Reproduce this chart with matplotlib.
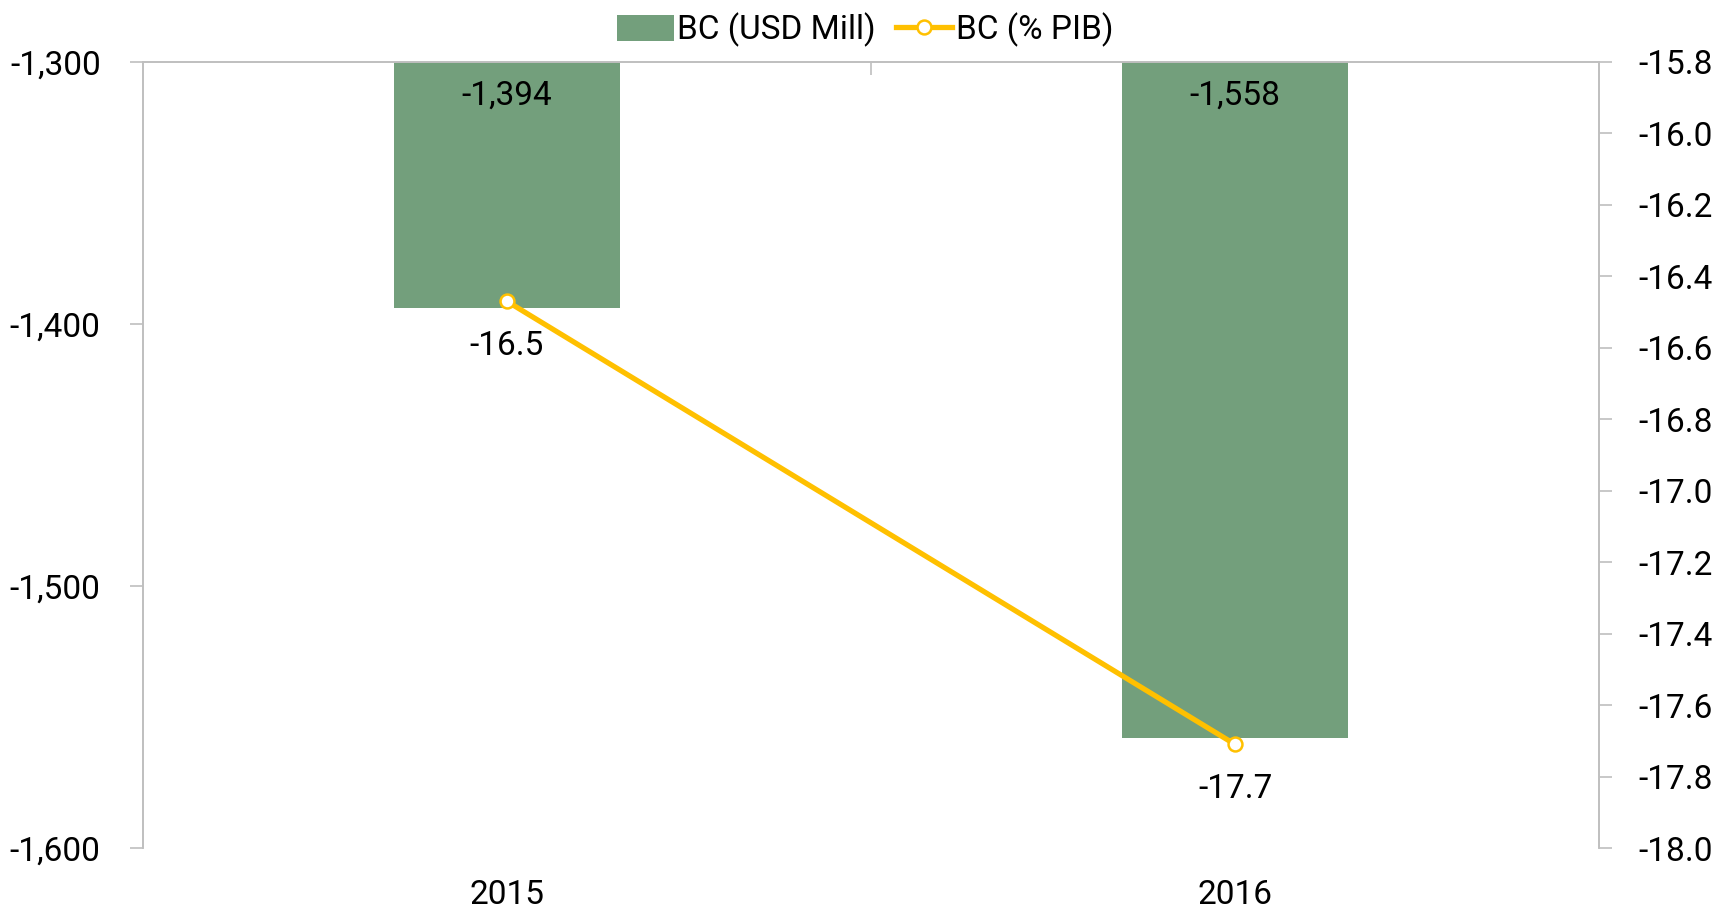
import matplotlib.pyplot as plt

plt.rcParams["font.family"] = ["Roboto", "DejaVu Sans"]

years = ["2015", "2016"]
bc_usd = [-1394, -1558]
bc_pib = [-16.47, -17.71]
bc_pib_labels = ["-16.5", "-17.7"]

GREEN = "#739F7C"
YELLOW = "#FFC000"
GRAY = "#BFBFBF"
FS = 24

fig = plt.figure(figsize=(17.13, 9.10), dpi=100)
ax = fig.add_axes([0.0835, 0.0681, 0.85, 0.8638])
ax2 = ax.twinx()

x = list(range(len(years)))
base = -1300
bars = ax.bar(x, [v - base for v in bc_usd], bottom=base, width=0.31,
              color=GREEN, label="BC (USD Mill)", zorder=2)
for xi, v in zip(x, bc_usd):
    ax.annotate(f"{v:,}", (xi, base), xytext=(0, -24), textcoords="offset points",
                ha="center", va="center", fontsize=FS)

ax.set_xlim(-0.5, 1.5)
ax.set_ylim(-1600, -1300)
ax.set_yticks([-1600, -1500, -1400, -1300])
ax.set_yticklabels([f"{v:,}" for v in [-1600, -1500, -1400, -1300]])
ax.set_xticks(x)
ax.set_xticklabels(years)
ax.set_xticks([0.5], minor=True)
ax.tick_params(axis="x", which="major", length=0, pad=22, labelsize=FS)
ax.tick_params(axis="x", which="minor", bottom=False, top=True, direction="in",
               length=9, color=GRAY, width=1.2)
ax.tick_params(axis="y", direction="out", length=9.5, color=GRAY, width=1.2,
               pad=21, labelsize=FS)

ax2.plot(x, bc_pib, color=YELLOW, lw=3.8, marker="o", ms=10,
         mfc="white", mec=YELLOW, mew=1.8, label="BC (% PIB)", zorder=3)
for xi, v, t in zip(x, bc_pib, bc_pib_labels):
    ax2.annotate(t, (xi, v), xytext=(0, -32), textcoords="offset points",
                 ha="center", va="center", fontsize=FS)
ax2.set_ylim(-18.0, -15.8)
ticks2 = [-18.0 + 0.2 * i for i in range(12)]
ax2.set_yticks(ticks2)
ax2.set_yticklabels([f"{t:.1f}" for t in ticks2])
ax2.tick_params(axis="y", direction="out", length=9.5, color=GRAY, width=1.2,
                pad=19, labelsize=FS)

for a in (ax, ax2):
    a.spines["bottom"].set_visible(False)
    for s in ("top", "left", "right"):
        a.spines[s].set_color(GRAY)
        a.spines[s].set_linewidth(1.2)

h1, l1 = ax.get_legend_handles_labels()
h2, l2 = ax2.get_legend_handles_labels()
fig.legend(h1 + h2, l1 + l2, loc="center", bbox_to_anchor=(0.505, 0.967), ncol=2,
           frameon=False, fontsize=FS, handlelength=1.7, handletextpad=0.1,
           columnspacing=0.6, handleheight=0.8)

fig.savefig("out.png", dpi=100)
